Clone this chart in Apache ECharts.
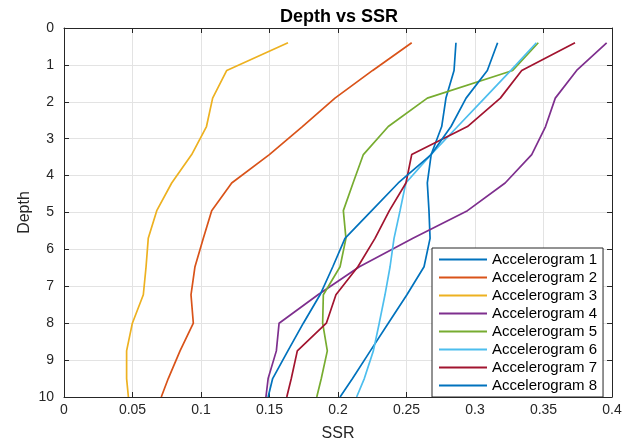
<!DOCTYPE html>
<html>
<head>
<meta charset="utf-8">
<script src="https://cdn.jsdelivr.net/npm/echarts@6/dist/echarts.min.js"></script>
<style>
  html, body { margin: 0; padding: 0; background: #fff; }
  #chart { width: 633px; height: 443px; }
</style>
</head>
<body>
<div id="chart"></div>
<script>
// Depth levels shared by every accelerogram
const depths = [0.4, 1.15, 1.9, 2.67, 3.43, 4.2, 4.95, 5.7, 6.47, 7.23, 8.0, 8.75, 9.5, 10];

// SSR at each depth level
const acc1 = [0.2861, 0.2847, 0.2788, 0.2757, 0.268, 0.2652, 0.2664, 0.2672, 0.2628, 0.2503, 0.2367, 0.2236, 0.2106, 0.2015];
const acc2 = [0.2538, 0.2253, 0.1978, 0.174, 0.1499, 0.1224, 0.1078, 0.1017, 0.0956, 0.0927, 0.0944, 0.0847, 0.0761, 0.071];
const acc3 = [0.1635, 0.1188, 0.1085, 0.104, 0.0932, 0.0786, 0.0677, 0.0615, 0.0599, 0.0579, 0.0499, 0.0457, 0.0457, 0.047];
const acc4 = [0.3961, 0.3742, 0.3586, 0.3515, 0.3414, 0.322, 0.2945, 0.2547, 0.2156, 0.1854, 0.157, 0.155, 0.149, 0.1474];
const acc5 = [0.3462, 0.3275, 0.2652, 0.2367, 0.2185, 0.211, 0.2039, 0.2058, 0.2015, 0.1893, 0.1888, 0.1922, 0.1878, 0.1845];
const acc6 = [0.3448, 0.3262, 0.307, 0.2873, 0.2678, 0.2495, 0.2453, 0.2409, 0.238, 0.2343, 0.2301, 0.2258, 0.2192, 0.2136];
const acc7 = [0.373, 0.3341, 0.3185, 0.2945, 0.2538, 0.2496, 0.2375, 0.227, 0.2145, 0.1985, 0.1915, 0.1703, 0.1659, 0.1626];
const acc8 = [0.3165, 0.309, 0.2935, 0.2825, 0.268, 0.244, 0.2246, 0.2051, 0.1962, 0.1869, 0.1747, 0.1634, 0.1523, 0.149];

const seriesNames = ['Accelerogram 1', 'Accelerogram 2', 'Accelerogram 3', 'Accelerogram 4',
                     'Accelerogram 5', 'Accelerogram 6', 'Accelerogram 7', 'Accelerogram 8'];
const seriesValues = [acc1, acc2, acc3, acc4, acc5, acc6, acc7, acc8];
const colors = ['#0072BD', '#D95319', '#EDB120', '#7E2F8E', '#77AC30', '#4DBEEE', '#A2142F', '#0072BD'];

const FONT = '"Liberation Sans", Arial, Helvetica, sans-serif';
const AXIS_COLOR = '#262626';
const GRID_COLOR = '#e3e3e3';

const chart = echarts.init(document.getElementById('chart'), null, { renderer: 'canvas' });

const baseX = {
  type: 'value', min: 0, max: 0.4, interval: 0.05,
  axisLine: { show: true, onZero: false, lineStyle: { color: AXIS_COLOR, width: 1 } },
  axisTick: { show: true, inside: true, length: 5, lineStyle: { color: AXIS_COLOR } },
  splitLine: { show: false }
};
const baseY = {
  type: 'value', min: 0, max: 10, interval: 1, inverse: true,
  axisLine: { show: true, onZero: false, lineStyle: { color: AXIS_COLOR, width: 1 } },
  axisTick: { show: true, inside: true, length: 5, lineStyle: { color: AXIS_COLOR } },
  splitLine: { show: false }
};

const option = {
  backgroundColor: '#ffffff',
  animation: false,
  color: colors,
  title: {
    text: 'Depth vs SSR',
    left: 334,
    textAlign: 'center',
    top: 3,
    textStyle: { fontFamily: FONT, fontSize: 18, fontWeight: 'bold', color: '#000' }
  },
  // fixed plot box: labels and axis names sit outside it without resizing it
  grid: { left: 64, right: 21, top: 28, bottom: 46, containLabel: false, outerBoundsMode: 'none' },
  legend: {
    orient: 'vertical',
    left: 432,
    top: 248,
    backgroundColor: '#fff',
    borderColor: AXIS_COLOR,
    borderWidth: 1,
    borderRadius: 0,
    padding: [4, 6, 4, 6],
    itemWidth: 48,
    itemHeight: 14,
    itemGap: 3,
    itemStyle: { opacity: 0 },
    textStyle: { fontFamily: FONT, fontSize: 15, color: '#000' },
    data: seriesNames
  },
  xAxis: [
    Object.assign({}, baseX, {
      position: 'bottom',
      name: 'SSR',
      nameLocation: 'middle',
      nameGap: 29,
      nameTextStyle: { fontFamily: FONT, fontSize: 16, color: AXIS_COLOR },
      axisLabel: { show: true, margin: 6, fontFamily: FONT, fontSize: 14, color: AXIS_COLOR,
                   formatter: v => String(+v.toFixed(2)) },
      splitLine: { show: true, lineStyle: { color: GRID_COLOR, width: 1 } }
    }),
    Object.assign({}, baseX, { position: 'top', axisLabel: { show: false } })
  ],
  yAxis: [
    Object.assign({}, baseY, {
      position: 'left',
      name: 'Depth',
      nameLocation: 'middle',
      nameGap: 31,
      nameMoveOverlap: false,
      nameRotate: 90,
      nameTextStyle: { fontFamily: FONT, fontSize: 16, color: AXIS_COLOR },
      axisLabel: { show: true, margin: 10, fontFamily: FONT, fontSize: 14, color: AXIS_COLOR },
      splitLine: { show: true, lineStyle: { color: GRID_COLOR, width: 1 } }
    }),
    Object.assign({}, baseY, { position: 'right', axisLabel: { show: false } })
  ],
  series: seriesNames.map((name, i) => ({
    name: name,
    type: 'line',
    xAxisIndex: 0,
    yAxisIndex: 0,
    symbol: 'none',
    smooth: false,
    clip: true,
    lineStyle: { width: 1.7, color: colors[i] },
    itemStyle: { color: colors[i] },
    data: depths.map((d, k) => [seriesValues[i][k], d])
  }))
};

chart.setOption(option);
</script>
</body>
</html>
